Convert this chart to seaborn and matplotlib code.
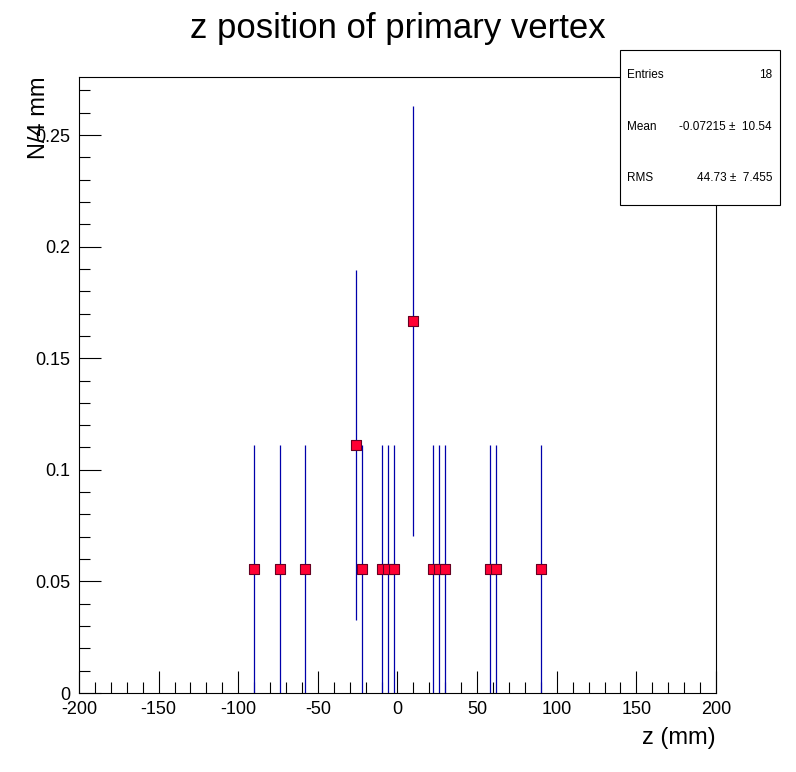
import numpy as np
import matplotlib
matplotlib.use('Agg')
import matplotlib.pyplot as plt
import seaborn as sns
from matplotlib.ticker import MultipleLocator

# bin centres (mm) and normalised contents
z_centers = [-90, -74, -58, -26, -22, -10, -6, -2, 10, 22, 26, 30, 58, 62, 90]
frac = [0.0556, 0.0556, 0.0556, 0.1111, 0.0556, 0.0556, 0.0556, 0.0556, 0.1667,
        0.0556, 0.0556, 0.0556, 0.0556, 0.0556, 0.0556]
err = [0.0556, 0.0556, 0.0556, 0.0786, 0.0556, 0.0556, 0.0556, 0.0556, 0.0962,
       0.0556, 0.0556, 0.0556, 0.0556, 0.0556, 0.0556]

sns.set_style('white')
plt.rcParams['font.family'] = ['Liberation Sans', 'DejaVu Sans']
plt.rcParams['axes.unicode_minus'] = False
plt.rcParams['text.color'] = 'black'
plt.rcParams['axes.labelcolor'] = 'black'
plt.rcParams['xtick.color'] = 'black'
plt.rcParams['ytick.color'] = 'black'

fig = plt.figure(figsize=(7.96, 7.72), dpi=100)
ax = fig.add_axes([0.0992, 0.1023, 0.8003, 0.798])

ax.errorbar(z_centers, frac, yerr=err, fmt='none', ecolor='#0000aa', elinewidth=0.9, zorder=2)
sns.scatterplot(x=z_centers, y=frac, marker='s', s=42, color='#ff0033',
                edgecolor='#660022', linewidth=0.8, ax=ax, zorder=3)

ax.set_xlim(-200, 200)
ax.set_ylim(0, 0.276)
ax.xaxis.set_major_locator(MultipleLocator(50))
ax.xaxis.set_minor_locator(MultipleLocator(10))
ax.yaxis.set_major_locator(MultipleLocator(0.05))
ax.yaxis.set_minor_locator(MultipleLocator(0.01))
ax.set_yticks([0, 0.05, 0.1, 0.15, 0.2, 0.25])
ax.set_yticklabels(['0', '0.05', '0.1', '0.15', '0.2', '0.25'])
ax.tick_params(which='major', direction='in', length=16, width=0.8, labelsize=13,
               bottom=True, left=True, top=False, right=False, pad=6)
ax.tick_params(which='minor', direction='in', length=8, width=0.8,
               bottom=True, left=True, top=False, right=False)
for s in ax.spines.values():
    s.set_color('black')
    s.set_linewidth(0.8)

ax.set_xlabel('z (mm)', fontsize=17, loc='right')
ax.set_ylabel('N/4 mm', fontsize=17, loc='top')
ax.xaxis.set_label_coords(1.0, -0.055)
ax.yaxis.set_label_coords(-0.045, 1.0)

fig.text(0.5, 0.963, 'z position of primary vertex', ha='center', va='center', fontsize=25)

# stats box
box = plt.Rectangle((0.779, 0.735), 0.201, 0.2, transform=fig.transFigure,
                    facecolor='white', edgecolor='black', linewidth=0.8, zorder=5)
fig.add_artist(box)
rows = [('Entries', '18', 0.903), ('Mean', '-0.07215 \u00b1  10.54', 0.835), ('RMS', '44.73 \u00b1  7.455', 0.770)]
for lab, val, yy in rows:
    fig.text(0.788, yy, lab, fontsize=8.5, va='center', zorder=6)
    fig.text(0.970, yy, val, fontsize=8.5, va='center', ha='right', zorder=6)

fig.savefig('out.png', dpi=100)
